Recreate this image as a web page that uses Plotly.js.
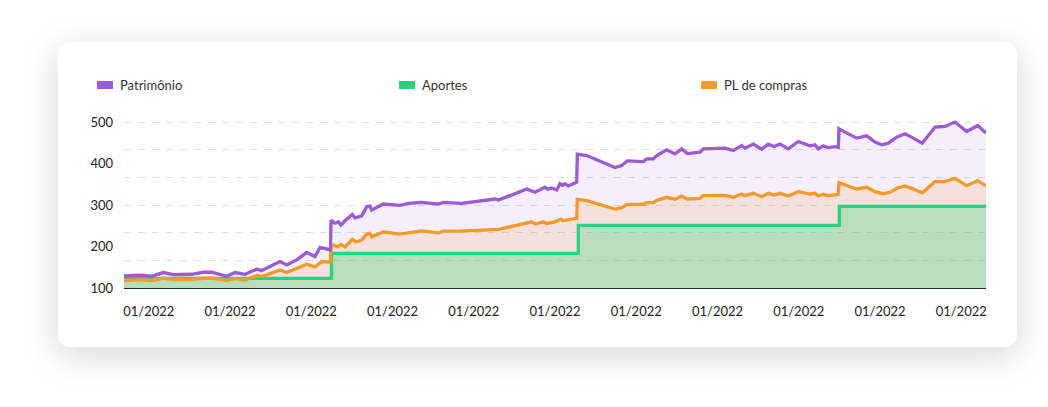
<!DOCTYPE html>
<html>
<head>
<meta charset="utf-8">
<script src="https://cdn.plot.ly/plotly-3.0.1.min.js"></script>
<style>
  html, body { margin:0; padding:0; background:#ffffff; width:1048px; height:407px; overflow:hidden; }
  #card { position:absolute; left:58px; top:42px; width:959px; height:305px; background:#fff;
          border-radius:12px; box-shadow:0 8px 36px rgba(0,0,0,0.17); }
  #chart { position:absolute; left:0; top:0; width:1048px; height:407px; }
</style>
</head>
<body>
<div id="card"></div>
<div id="chart"></div>
<script>
// ---- data (x = days since start of series) ----
const seriesNames = ["Patrimônio", "Aportes", "PL de compras"];
const seriesColors = ["#9b5bd4", "#2dd07f", "#f39a2b"];

const diasPatrimonio = [0,16,27.7,39.3,49.3,59.3,67.7,79.3,87.7,102.7,111,121,132.7,137.7,156,162.7,172.7,182.7,191,196,206.5,207,211,214.3,217,221,228.3,231,237.7,242.7,246,247.7,259.3,276,284.3,297.7,314.3,319.3,331,337.7,371,374.3,387.7,402.7,411,417.7,421,423.7,427.7,432.7,436,438.3,441,444.3,452.7,453.3,462.7,491,497.7,503.3,519.3,522.7,529.3,532.7,542.7,551,557.7,563.3,576,579.3,601,609.3,617.7,621,629.3,637.7,644.3,650,656,664.3,674.3,686,691,694.3,699.3,704.3,711,714.3,715,721,732.7,742.7,751,757.7,764.3,772.7,781,789.3,798.3,811,821,831,842.7,853.7,862];
const patrimonio = [129,130.7,128.3,137.2,132.4,133.1,133.1,138,138,128.3,137.2,133.1,145.2,142.1,163.8,155.6,167.7,185.6,175.9,197.7,191.9,263.2,255.7,259.6,251.6,262,277.5,269.3,274.1,295.9,297.6,287.9,302.4,299.3,304.1,306.5,302.4,306.5,305.6,304.1,314.5,312.1,324.2,338.7,330.7,338,342.8,338,341.1,336.3,351.5,347.6,350.8,346,354.9,422.6,419.2,390.2,395,406.4,404.7,411.2,411.2,419.2,433,423.3,435.4,424.1,427.5,435.4,437.1,431.3,443.4,437.1,446.8,434.7,446.8,441,446.8,435.4,453.1,442.7,445.1,435.4,442.7,438.6,441,439.5,483.8,475.8,461.3,466.9,451.6,445.1,449.2,463.7,471.7,461.3,449.2,487.9,489.4,500,477.3,491.8,473.4];

const diasPL = [0,16,27.7,39.3,49.3,67.7,79.3,89.3,102.7,111,121,132.7,137.7,156,162.7,182.7,191,197.7,206.5,207,209.3,213.7,217,221,228.3,231.7,237.7,242.7,246,247.7,259.3,276,297.7,314.3,319.3,334.3,374.3,389.3,407.7,411.7,419.3,422.7,431,437,439.3,446,452.7,453.3,462.7,491,497.7,503.3,519.3,522.7,529.3,532.7,542.7,551,557.7,563.3,576,579.3,601,609.3,617.7,621,629.3,637.7,644.3,650,656,664.3,674.3,686,691,694.3,699.3,704.3,711,714.3,715,721,732.7,742.7,751,759.3,766,772.7,781,789.3,798.3,811,821,831,842.7,853.7,862];
const plCompras = [117.9,120.3,117.9,123.5,120.3,120.3,123.5,123.5,117.9,122.7,119.3,130,127.6,143.5,137.2,157.3,150.8,163.8,162.2,205,203.3,199.2,205,199.2,217,211.2,215.4,229.9,231.6,223.3,235.4,229.9,237.8,233,237.1,237.1,241.2,249.2,259.6,254.1,259.6,255.7,259.6,266.1,262,265.4,267.8,313.8,310.4,290.3,293.5,301.7,301.7,305.6,305.6,311.4,318.6,313.8,321.8,314.5,316.2,322.5,323.5,318.6,326.6,322.5,328.3,320.1,328.3,324.2,328.3,321.8,332.2,326.6,328.3,321.8,325.9,322.5,325.9,325.9,353.9,348.4,338.7,342.8,332.2,327.3,330.7,340.4,346,338.7,329.7,356.4,356.4,364.6,346.7,358.8,346];

const diasAportes = [0,207.5,454.3,715.3,862];
const aportes = [123,183.5,251,297,297];

const xTickVals = [24.8,106,187.3,268.5,349.8,431,512.2,593.5,674.7,756,837.2];
const xTickText = ["01/2022","01/2022","01/2022","01/2022","01/2022","01/2022","01/2022","01/2022","01/2022","01/2022","01/2022"];
const yTickVals = [100,200,300,400,500];
const yGridVals = [100,166.67,233.33,300,366.67,433.33,500];

// ---- layout geometry ----
const W = 1048, H = 407;
const M = {l:124, r:62, t:120, b:119, pad:0};
const plotW = W - M.l - M.r, plotH = H - M.t - M.b;
const pxX = x => (x - M.l) / plotW;
const pxY = y => (H - M.b - y) / plotH;

const fillColors = ["rgba(155,91,212,0.10)", "rgba(243,154,43,0.15)", "rgba(45,214,127,0.30)"];

const traces = [
  // fills
  {x: diasPatrimonio, y: patrimonio, type:"scatter", mode:"lines", line:{width:0}, fill:"tozeroy", fillcolor:fillColors[0], hoverinfo:"skip", showlegend:false},
  {x: diasPL, y: plCompras, type:"scatter", mode:"lines", line:{width:0}, fill:"tozeroy", fillcolor:fillColors[1], hoverinfo:"skip", showlegend:false},
  {x: diasAportes, y: aportes, type:"scatter", mode:"lines", line:{width:0, shape:"hv"}, fill:"tozeroy", fillcolor:fillColors[2], hoverinfo:"skip", showlegend:false},
  // lines
  {x: diasAportes, y: aportes, name: seriesNames[1], type:"scatter", mode:"lines", line:{color:seriesColors[1], width:3.3, shape:"hv"}, showlegend:false},
  {x: diasPL, y: plCompras, name: seriesNames[2], type:"scatter", mode:"lines", line:{color:seriesColors[2], width:3.3}, showlegend:false},
  {x: diasPatrimonio, y: patrimonio, name: seriesNames[0], type:"scatter", mode:"lines", line:{color:seriesColors[0], width:3.3}, showlegend:false},
  // dummy for grid axis
  {x:[null], y:[null], yaxis:"y2", type:"scatter", mode:"lines", showlegend:false, hoverinfo:"skip"}
];

// custom legend
const legendX = [97, 399, 701];
const shapes = [], annotations = [];
seriesNames.forEach((n, i) => {
  shapes.push({type:"rect", xref:"paper", yref:"paper", x0:pxX(legendX[i]), x1:pxX(legendX[i]+16), y0:pxY(89), y1:pxY(81),
               fillcolor:seriesColors[i], line:{width:0}});
  annotations.push({xref:"paper", yref:"paper", x:pxX(legendX[i]+21), y:pxY(85), xanchor:"left", yanchor:"middle",
                    text:n, showarrow:false, font:{family:"Lato, sans-serif", size:13, color:"#333333"}});
});

const layout = {
  width: W, height: H, margin: M,
  paper_bgcolor: "rgba(0,0,0,0)", plot_bgcolor: "rgba(0,0,0,0)",
  font: {family:"Lato, sans-serif", size:13, color:"#222222"},
  showlegend: false,
  xaxis: {range:[0,862], tickmode:"array", tickvals:xTickVals, ticktext:xTickText, showgrid:false, zeroline:false,
          showline:true, linecolor:"#1e3326", linewidth:1, layer:"above traces", ticks:"", ticklabelstandoff:11,
          tickfont:{family:"Lato, sans-serif", size:13, color:"#222222"}, fixedrange:true},
  yaxis: {range:[100,505], tickmode:"array", tickvals:yTickVals, showgrid:false, zeroline:false, showline:false,
          ticks:"", ticklabelstandoff:10, tickfont:{family:"Lato, sans-serif", size:13, color:"#222222"}, fixedrange:true},
  yaxis2: {overlaying:"y", range:[100,505], tickmode:"array", tickvals:yGridVals, showticklabels:false, showgrid:true,
           gridcolor:"#dedede", gridwidth:1, griddash:"7px,7px", zeroline:false, showline:false, ticks:"", fixedrange:true},
  shapes: shapes,
  annotations: annotations
};

Plotly.newPlot("chart", traces, layout, {displayModeBar:false, staticPlot:true});
</script>
</body>
</html>
